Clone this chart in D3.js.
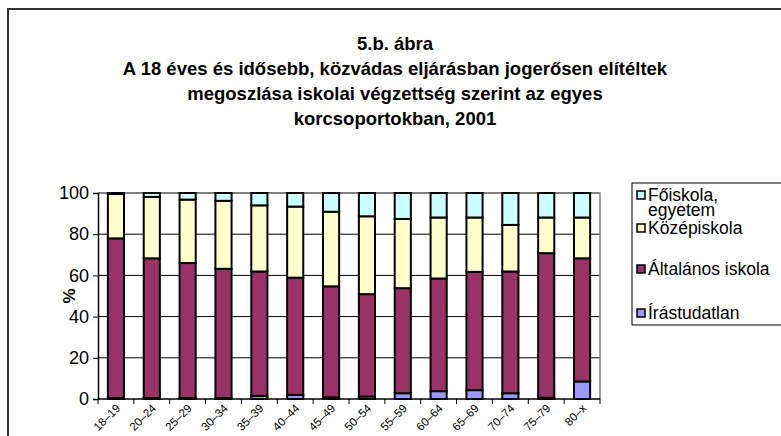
<!DOCTYPE html>
<html>
<head>
<meta charset="utf-8">
<script src="https://cdn.jsdelivr.net/npm/d3@7"></script>
<style>
  body { margin: 0; background: #fff; }
  svg { font-family: "Liberation Sans", Arial, sans-serif; }
</style>
</head>
<body>
<div id="chart"></div>
<script>
// age groups
var categories = ["18–19", "20–24", "25–29", "30–34", "35–39", "40–44", "45–49",
  "50–54", "55–59", "60–64", "65–69", "70–74", "75–79", "80–x"];

// shares in % per education level (bottom to top)
var irastudatlan = [0.5, 0.5, 0.5, 0.5, 1.5, 2.0, 0.8, 1.2, 2.8, 3.8, 4.3, 2.8, 0.6, 8.5];
var altalanos = [77.5, 67.8, 65.5, 62.7, 60.4, 56.9, 53.9, 49.7, 51.0, 54.7, 57.4, 59.1, 70.2, 59.8];
var kozep = [21.5, 29.8, 30.8, 33.0, 32.1, 34.5, 36.2, 37.8, 33.6, 29.6, 26.4, 22.6, 17.3, 19.8];
var foiskola = [0.5, 1.9, 3.2, 3.8, 6.0, 6.6, 9.1, 11.3, 12.6, 11.9, 11.9, 15.5, 11.9, 11.9];

var yTicks = [0, 20, 40, 60, 80, 100];

var seriesNames = ["Írástudatlan", "Általános iskola", "Középiskola", "Főiskola, egyetem"];
var seriesValues = [irastudatlan, altalanos, kozep, foiskola];
var colors = ["#9999FF", "#993366", "#FFFFCC", "#CCFFFF"];

var titleLines = ["5.b. ábra",
  "A 18 éves és idősebb, közvádas eljárásban jogerősen elítéltek",
  "megoszlása iskolai végzettség szerint az egyes",
  "korcsoportokban, 2001"];

var W = 781, H = 436;
var plot = { left: 98, top: 193, right: 600, bottom: 399 };
var fontFamily = "Liberation Sans, Arial, sans-serif";

var svg = d3.select("#chart").append("svg")
  .attr("width", W)
  .attr("height", H);

// outer frame (right and bottom run off the picture)
svg.append("rect")
  .attr("x", 8).attr("y", 9)
  .attr("width", W + 10).attr("height", H + 10)
  .attr("fill", "#fff")
  .attr("stroke", "#333")
  .attr("stroke-width", 2);

// title
svg.append("g").selectAll("text")
  .data(titleLines)
  .join("text")
  .attr("x", 395)
  .attr("y", function(d, i) { return 50 + i * 25; })
  .attr("text-anchor", "middle")
  .attr("font-size", 18.5)
  .attr("font-weight", "bold")
  .text(function(d) { return d; });

var x = d3.scaleBand()
  .domain(categories)
  .range([plot.left, plot.right])
  .paddingInner(0.55)
  .paddingOuter(0.275);

var xb = d3.scaleBand()
  .domain(categories)
  .range([plot.left, plot.right]);

var y = d3.scaleLinear()
  .domain([0, 100])
  .range([plot.bottom, plot.top]);

// gridlines
svg.append("g").selectAll("line")
  .data(yTicks.slice(1))
  .join("line")
  .attr("x1", plot.left).attr("x2", plot.right)
  .attr("y1", function(d) { return y(d); })
  .attr("y2", function(d) { return y(d); })
  .attr("stroke", "#000")
  .attr("stroke-width", 1);

// plot border (right/top)
svg.append("path")
  .attr("d", "M" + plot.left + "," + plot.top + "H" + plot.right + "V" + plot.bottom)
  .attr("fill", "none")
  .attr("stroke", "#808080")
  .attr("stroke-width", 1.5);

// stacked data
var rows = categories.map(function(c, i) {
  var r = { cat: c };
  seriesNames.forEach(function(s, k) { r[s] = seriesValues[k][i]; });
  return r;
});
var stacked = d3.stack().keys(seriesNames)(rows);

svg.append("g").selectAll("g")
  .data(stacked)
  .join("g")
  .attr("fill", function(d, i) { return colors[i]; })
  .selectAll("rect")
  .data(function(d) { return d; })
  .join("rect")
  .attr("x", function(d) { return x(d.data.cat); })
  .attr("width", x.bandwidth())
  .attr("y", function(d) { return y(d[1]); })
  .attr("height", function(d) { return y(d[0]) - y(d[1]); })
  .attr("stroke", "#000")
  .attr("stroke-width", 2);

// y axis
var yAxis = svg.append("g")
  .attr("transform", "translate(" + plot.left + ",0)")
  .call(d3.axisLeft(y).tickValues(yTicks).tickSize(5).tickPadding(4));
yAxis.select(".domain").attr("stroke-width", 1.5);
yAxis.selectAll("text").attr("font-size", 18).attr("fill", "#000")
  .attr("font-family", fontFamily);

// x axis with ticks between categories
var xAxis = svg.append("g")
  .attr("transform", "translate(0," + plot.bottom + ")");
xAxis.append("line")
  .attr("x1", plot.left).attr("x2", plot.right)
  .attr("stroke", "#000").attr("stroke-width", 1.5);
xAxis.selectAll("line.tick")
  .data(categories.concat(["end"]))
  .join("line")
  .attr("class", "tick")
  .attr("x1", function(d, i) { return plot.left + i * xb.step(); })
  .attr("x2", function(d, i) { return plot.left + i * xb.step(); })
  .attr("y1", 0).attr("y2", 5)
  .attr("stroke", "#000");
xAxis.selectAll("text")
  .data(categories)
  .join("text")
  .attr("transform", function(d) {
    return "translate(" + (xb(d) + xb.bandwidth() / 2 + 5) + ",10) rotate(-45)";
  })
  .attr("text-anchor", "end")
  .attr("font-size", 11.5)
  .text(function(d) { return d; });

// y label
svg.append("text")
  .attr("transform", "translate(75," + (plot.top + plot.bottom) / 2 + ") rotate(-90)")
  .attr("text-anchor", "middle")
  .attr("font-size", 17)
  .attr("font-weight", "bold")
  .text("%");

// legend
var legend = svg.append("g");
legend.append("rect")
  .attr("x", 632).attr("y", 183)
  .attr("width", 160).attr("height", 142)
  .attr("fill", "#fff")
  .attr("stroke", "#000")
  .attr("stroke-width", 1);

var legendItems = [
  { k: 3, lines: ["Főiskola,", "egyetem"], y: 195 },
  { k: 2, lines: ["Középiskola"], y: 228 },
  { k: 1, lines: ["Általános iskola"], y: 269 },
  { k: 0, lines: ["Írástudatlan"], y: 313 }
];
legendItems.forEach(function(it) {
  legend.append("rect")
    .attr("x", 637).attr("y", it.y - 4)
    .attr("width", 8).attr("height", 8)
    .attr("fill", colors[it.k])
    .attr("stroke", "#000").attr("stroke-width", 1.5);
  it.lines.forEach(function(t, j) {
    legend.append("text")
      .attr("x", 648)
      .attr("y", it.y + 6 + j * 15)
      .attr("font-size", 17.5)
      .text(t);
  });
});
</script>
</body>
</html>
